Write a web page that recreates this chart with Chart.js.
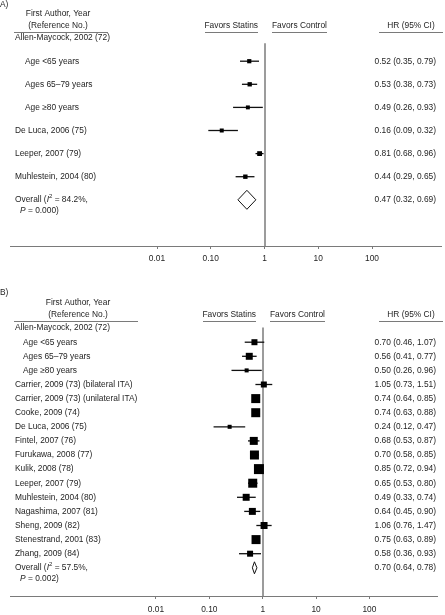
<!DOCTYPE html>
<html>
<head>
<meta charset="utf-8">
<script src="https://cdn.jsdelivr.net/npm/chart.js@4.4.1/dist/chart.umd.min.js"></script>
<style>
    html, body { margin: 0; padding: 0; background: #fff; }
    #wrap { position: relative; width: 445px; height: 615px; }
    canvas { position: absolute; left: 0; }
</style>
</head>
<body>
<div id="wrap">
    <canvas id="forest-a" width="445" height="270" style="top:0;width:445px;height:270px"></canvas>
    <canvas id="forest-b" width="445" height="345" style="top:270px;width:445px;height:345px"></canvas>
</div>
<script>
// ---- panel A ----
const labelsA = ['Allen-Maycock, 2002 (72)', 'Age <65 years', 'Ages 65\u201379 years', 'Age \u226580 years',
    'De Luca, 2006 (75)', 'Leeper, 2007 (79)', 'Muhlestein, 2004 (80)'];
const indentA = [0, 1, 1, 1, 0, 0, 0];
const hrA = [null, 0.52, 0.53, 0.49, 0.16, 0.81, 0.44];
const loA = [null, 0.35, 0.38, 0.26, 0.09, 0.68, 0.29];
const hiA = [null, 0.79, 0.73, 0.93, 0.32, 0.96, 0.65];
const weightA = [null, 16.0, 17.0, 14.0, 14.5, 21.0, 17.5];
const overallA = [0.47, 0.32, 0.69];
const i2A = '84.2%';
const pA = '0.000';

// ---- panel B ----
const labelsB = ['Allen-Maycock, 2002 (72)', 'Age <65 years', 'Ages 65\u201379 years', 'Age \u226580 years',
    'Carrier, 2009 (73) (bilateral ITA)', 'Carrier, 2009 (73) (unilateral ITA)', 'Cooke, 2009 (74)',
    'De Luca, 2006 (75)', 'Fintel, 2007 (76)', 'Furukawa, 2008 (77)', 'Kulik, 2008 (78)', 'Leeper, 2007 (79)',
    'Muhlestein, 2004 (80)', 'Nagashima, 2007 (81)', 'Sheng, 2009 (82)', 'Stenestrand, 2001 (83)', 'Zhang, 2009 (84)'];
const indentB = [0, 1, 1, 1, 0, 0, 0, 0, 0, 0, 0, 0, 0, 0, 0, 0, 0];
const hrB = [null, 0.70, 0.56, 0.50, 1.05, 0.74, 0.74, 0.24, 0.68, 0.70, 0.85, 0.65, 0.49, 0.64, 1.06, 0.75, 0.58];
const loB = [null, 0.46, 0.41, 0.26, 0.73, 0.64, 0.63, 0.12, 0.53, 0.58, 0.72, 0.53, 0.33, 0.45, 0.76, 0.63, 0.36];
const hiB = [null, 1.07, 0.77, 0.96, 1.51, 0.85, 0.88, 0.47, 0.87, 0.85, 0.94, 0.80, 0.74, 0.90, 1.47, 0.89, 0.93];
const weightB = [null, 4.0, 5.4, 1.8, 4.0, 9.0, 9.0, 1.8, 7.1, 9.0, 11.1, 9.0, 5.4, 5.4, 5.4, 9.0, 4.0];
const overallB = [0.70, 0.64, 0.78];
const i2B = '57.5%';
const pB = '0.002';

// ---- shared axis ----
const tickValues = [0.01, 0.1, 1, 10, 100];
const tickLabels = ['0.01', '0.10', '1', '10', '100'];
const X_MIN = 1.84e-5;
const X_MAX = 1920;

const FAMILY = '"Liberation Sans", Arial, Helvetica, sans-serif';
const FS = 8.4;
const TEXT = '#1e1e1e';

const fmt = (h, l, u) => `${h.toFixed(2)} (${l.toFixed(2)}, ${u.toFixed(2)})`;

function forestPlugin(p) {
    return {
        id: 'forest' + p.tag,
        beforeDatasetsDraw(chart) {
            const { ctx, chartArea } = chart;
            const { x, y } = chart.scales;
            ctx.save();

            // reference line at HR = 1
            const x1 = Math.round(x.getPixelForValue(1));
            ctx.strokeStyle = '#9c9c9c';
            ctx.lineWidth = 2;
            ctx.beginPath();
            ctx.moveTo(x1, y.getPixelForValue(p.lineTop));
            ctx.lineTo(x1, chartArea.bottom);
            ctx.stroke();

            // CI whiskers
            ctx.strokeStyle = '#111';
            ctx.lineWidth = 1.3;
            p.hr.forEach((v, i) => {
                if (v == null) return;
                const yy = y.getPixelForValue(i);
                ctx.beginPath();
                ctx.moveTo(x.getPixelForValue(p.lo[i]), yy);
                ctx.lineTo(x.getPixelForValue(p.hi[i]), yy);
                ctx.stroke();
            });

            // pooled estimate diamond
            const [oh, ol, ou] = p.overall;
            const oy = y.getPixelForValue(p.labels.length);
            ctx.fillStyle = '#fff';
            ctx.strokeStyle = '#111';
            ctx.lineWidth = 1;
            ctx.beginPath();
            ctx.moveTo(x.getPixelForValue(ol), oy);
            ctx.lineTo(x.getPixelForValue(oh), oy - p.diamondH);
            ctx.lineTo(x.getPixelForValue(ou), oy);
            ctx.lineTo(x.getPixelForValue(oh), oy + p.diamondH);
            ctx.closePath();
            ctx.fill();
            ctx.stroke();
            ctx.restore();
        },
        afterDraw(chart) {
            const { ctx } = chart;
            const { x, y } = chart.scales;
            const x1 = Math.round(x.getPixelForValue(1));
            const f = `${FS}px ${FAMILY}`;
            const fi = `italic ${FS}px ${FAMILY}`;
            const fs = `6px ${FAMILY}`;
            ctx.save();
            ctx.fillStyle = TEXT;
            ctx.textBaseline = 'middle';
            ctx.font = f;

            // panel letter and headers
            ctx.textAlign = 'left';
            ctx.fillText(p.tag + ')', 0, p.tagY);
            ctx.textAlign = 'center';
            ctx.fillText('First Author, Year', p.hdrCx, p.hdr1Y);
            ctx.fillText('(Reference No.)', p.hdrCx, p.hdr2Y);
            ctx.textAlign = 'right';
            ctx.fillText('Favors Statins', x1 - 7, p.hdr2Y);
            ctx.textAlign = 'left';
            ctx.fillText('Favors Control', x1 + 7, p.hdr2Y);
            ctx.textAlign = 'center';
            ctx.fillText('HR (95% CI)', 411, p.hdr2Y);

            ctx.strokeStyle = '#7a7a7a';
            ctx.lineWidth = 1;
            [[14, p.ulRight], [x1 - 60, x1 - 7], [x1 + 7, x1 + 62], [379, 443]].forEach(([a, b]) => {
                ctx.beginPath();
                ctx.moveTo(a, p.ulY);
                ctx.lineTo(b, p.ulY);
                ctx.stroke();
            });

            // study labels and HR text
            p.labels.forEach((lab, i) => {
                const yy = y.getPixelForValue(i);
                ctx.textAlign = 'left';
                ctx.fillText(lab, p.indent[i] ? p.xSub : p.xStudy, yy);
                if (p.hr[i] != null) {
                    ctx.textAlign = 'right';
                    ctx.fillText(fmt(p.hr[i], p.lo[i], p.hi[i]), 436, yy);
                }
            });

            // overall row
            const oy = y.getPixelForValue(p.labels.length);
            ctx.textAlign = 'right';
            ctx.font = f;
            ctx.fillText(fmt(...p.overall), 436, oy);
            ctx.textAlign = 'left';
            let tx = p.xStudy;
            const put = (s, font, yy) => {
                ctx.font = font;
                ctx.fillText(s, tx, yy);
                tx += ctx.measureText(s).width;
            };
            put('Overall (', f, oy);
            put('I', fi, oy);
            put('2', fs, oy - 3);
            put(' = ' + p.i2 + ',', f, oy);
            tx = p.xStudy + 5;
            put('P', fi, oy + 11);
            put(' = ' + p.p + ')', f, oy + 11);
            ctx.restore();
        },
    };
}

function createForest(canvasId, p) {
    const canvas = document.getElementById(canvasId);
    const points = [];
    const radii = [];
    p.hr.forEach((v, i) => {
        if (v == null) return;
        points.push({ x: v, y: i });
        // square side proportional to sqrt(weight); Chart.js 'rect' side = sqrt(2) * radius
        radii.push((p.boxScale * Math.sqrt(p.weight[i])) / Math.SQRT2);
    });

    return new Chart(canvas.getContext('2d'), {
        type: 'scatter',
        data: {
            datasets: [{
                data: points,
                pointStyle: 'rect',
                pointRadius: radii,
                backgroundColor: '#000',
                borderWidth: 0,
            }],
        },
        options: {
            responsive: false,
            animation: false,
            events: [],
            layout: { padding: { left: 10, right: 2, top: p.padTop, bottom: 0 } },
            plugins: { legend: { display: false }, tooltip: { enabled: false } },
            scales: {
                x: {
                    type: 'logarithmic',
                    min: X_MIN,
                    max: X_MAX,
                    afterBuildTicks: s => { s.ticks = tickValues.map(v => ({ value: v })); },
                    afterFit: s => { s.height = p.axisH; },
                    ticks: {
                        callback: (v, i) => tickLabels[i],
                        color: TEXT,
                        font: { size: FS, family: FAMILY },
                        padding: p.tickPad,
                        maxRotation: 0,
                        autoSkip: false,
                    },
                    grid: { display: true, drawOnChartArea: false, drawTicks: true, tickLength: 3, color: '#7a7a7a' },
                    border: { display: true, color: '#7a7a7a', width: 1 },
                },
                y: { type: 'linear', reverse: true, min: -1, max: p.labels.length + 2, display: false },
            },
        },
        plugins: [forestPlugin(p)],
    });
}

createForest('forest-a', {
    tag: 'A', labels: labelsA, indent: indentA, hr: hrA, lo: loA, hi: hiA, weight: weightA,
    overall: overallA, i2: i2A, p: pA,
    padTop: 15, axisH: 24, tickPad: 5, boxScale: 1.05, diamondH: 9.5, lineTop: 0.22,
    tagY: 5, hdr1Y: 14, hdr2Y: 26, ulY: 32.5, ulRight: 108, hdrCx: 58, xStudy: 15, xSub: 25,
});

createForest('forest-b', {
    tag: 'B', labels: labelsB, indent: indentB, hr: hrB, lo: loB, hi: hiB, weight: weightB,
    overall: overallB, i2: i2B, p: pB,
    padTop: 44, axisH: 19, tickPad: 6, boxScale: 3, diamondH: 6, lineTop: -0.05,
    tagY: 23, hdr1Y: 33, hdr2Y: 45, ulY: 51.5, ulRight: 138, hdrCx: 78, xStudy: 15, xSub: 23,
});
</script>
</body>
</html>
